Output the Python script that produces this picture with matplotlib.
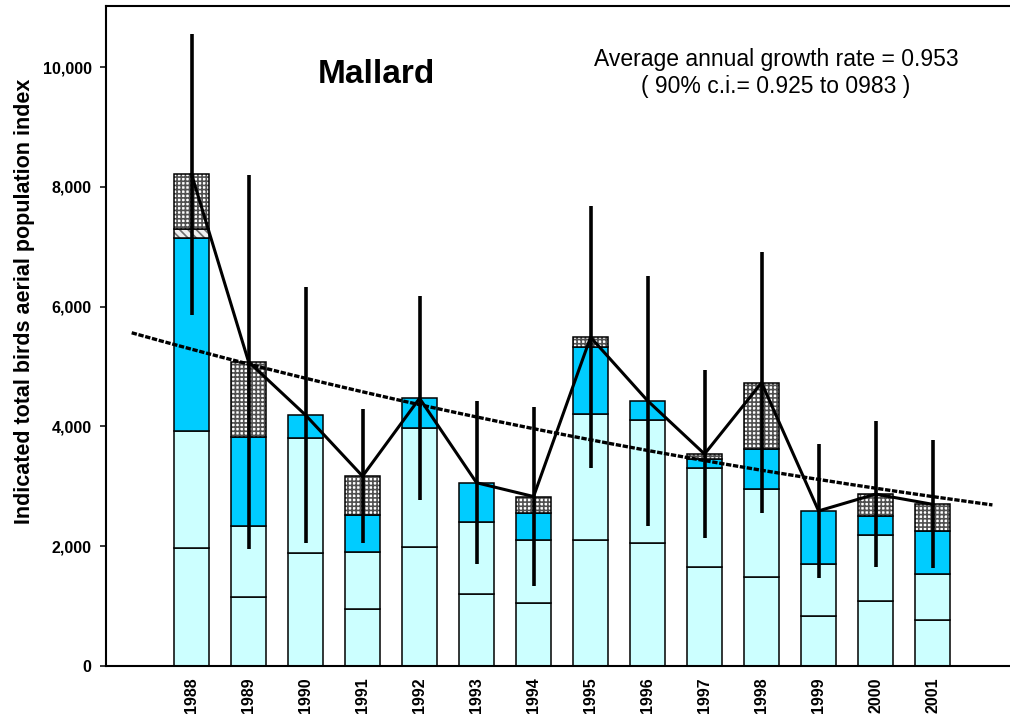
import numpy as np
import matplotlib
matplotlib.use('Agg')
import matplotlib.pyplot as plt

plt.rcParams['font.family'] = ['Liberation Sans', 'DejaVu Sans']
plt.rcParams['hatch.linewidth'] = 1.2

# Dados
years = ['1988', '1989', '1990', '1991', '1992', '1993', '1994',
         '1995', '1996', '1997', '1998', '1999', '2000', '2001']
lower = [1965, 1160, 1890, 950, 1980, 1200, 1050, 2100, 2050, 1660, 1480, 840, 1090, 770]
upper = [1963, 1170, 1910, 950, 1990, 1200, 1050, 2100, 2050, 1650, 1480, 860, 1090, 770]
cyan = [3212, 1490, 390, 620, 500, 660, 450, 1130, 330, 140, 670, 890, 330, 710]
striped = [160, 0, 0, 0, 0, 0, 0, 0, 0, 0, 0, 0, 0, 0]
checked = [910, 1260, 0, 650, 0, 0, 280, 160, 0, 90, 1100, 0, 360, 450]
err = [2350, 3120, 2140, 1120, 1700, 1360, 1500, 2190, 2090, 1400, 2180, 1120, 1220, 1070]

growth = 0.953
trend_1988 = 5290

x = np.arange(len(years))
lower = np.array(lower)
upper = np.array(upper)
cyan = np.array(cyan)
striped = np.array(striped)
checked = np.array(checked)
total = lower + upper + cyan + striped + checked

fig = plt.figure(figsize=(10.1, 7.17), dpi=100)
ax = fig.add_axes([0.105, 0.0711, 0.903, 0.9205])

w = 0.6
ax.bar(x, lower, w, color='#CCFFFF', edgecolor='black', linewidth=1.1, zorder=2)
ax.bar(x, upper, w, bottom=lower, color='#CCFFFF', edgecolor='black', linewidth=1.1, zorder=2)
ax.bar(x, cyan, w, bottom=lower + upper, color='#00CCFF', edgecolor='black', linewidth=1.1, zorder=2)

# camadas com padrão: primeiro o hachurado, depois o contorno preto
b = lower + upper + cyan
m = striped > 0
ax.bar(x[m], striped[m], w, bottom=b[m], color='#f0f0f0', edgecolor='#707070', hatch='\\\\\\\\', linewidth=0, zorder=2)
ax.bar(x[m], striped[m], w, bottom=b[m], fill=False, edgecolor='black', linewidth=1.1, zorder=2)
b = b + striped
m = checked > 0
ax.bar(x[m], checked[m], w, bottom=b[m], color='white', edgecolor='#505050', hatch='++++', linewidth=0, zorder=2)
ax.bar(x[m], checked[m], w, bottom=b[m], fill=False, edgecolor='black', linewidth=1.1, zorder=2)

# barras de erro e linha do total
ax.errorbar(x, total, yerr=err, fmt='none', ecolor='black', elinewidth=2.6, capsize=0, zorder=4)
ax.plot(x, total, color='black', linewidth=2.2, zorder=5)

# tendência exponencial
xt = np.linspace(-1.05, 14.05, 200)
ax.plot(xt, trend_1988 * growth ** xt, color='black', linewidth=2.4,
        linestyle=(0, (1.6, 0.5)), zorder=3)

ax.set_xlim(-1.5, 14.5)
ax.set_ylim(0, 11020)
ax.set_xticks(x)
ax.set_xticklabels(years, rotation=90, fontsize=11.5, fontweight='bold')
ax.tick_params(axis='x', length=0, pad=8)
ax.set_yticks([0, 2000, 4000, 6000, 8000, 10000])
ax.set_yticklabels(['{:,}'.format(v) for v in [0, 2000, 4000, 6000, 8000, 10000]],
                   fontsize=11.5, fontweight='bold')
ax.tick_params(axis='y', direction='out', length=4.3, width=1.1, pad=6)
for s in ax.spines.values():
    s.set_linewidth(1.5)

ax.text(3.25, 9880, 'Mallard', fontsize=24, fontweight='bold', ha='center', va='center')
ax.text(10.25, 9900, 'Average annual growth rate = 0.953\n( 90% c.i.= 0.925 to 0983 )',
        fontsize=16.5, ha='center', va='center', multialignment='center', linespacing=1.25)

fig.text(25 / 1010, 1 - 301 / 717, 'Indicated total birds aerial population index',
         rotation=90, fontsize=15.5, fontweight='bold', ha='center', va='center')

plt.savefig('out.png', dpi=100)
